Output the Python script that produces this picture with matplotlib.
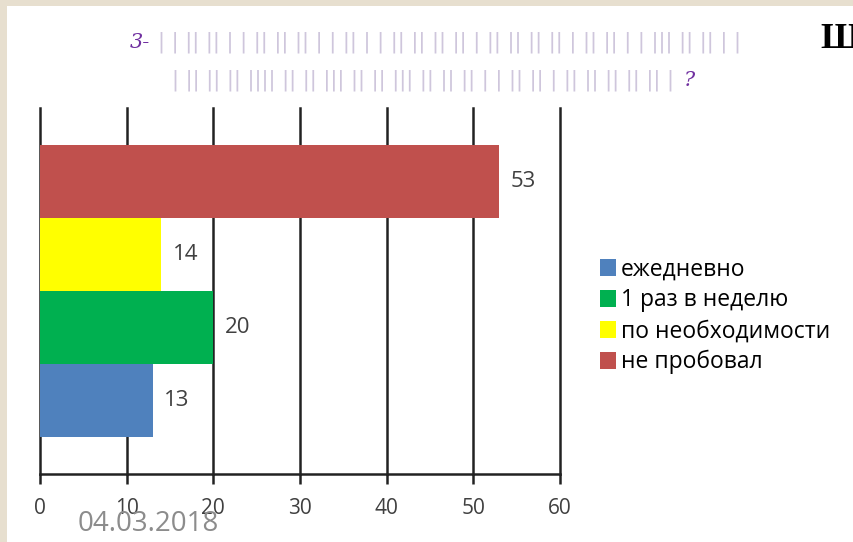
import matplotlib
matplotlib.use("Agg")
import matplotlib.pyplot as plt
from matplotlib.patches import Rectangle, Patch

categories = ['ежедневно', '1 раз в неделю', 'по необходимости', 'не пробовал']
values = [13, 20, 14, 53]
colors = ['#4f81bd', '#00b050', '#ffff00', '#c0504d']
xticks = [0, 10, 20, 30, 40, 50, 60]

W, H = 854, 542
fig = plt.figure(figsize=(W / 100, H / 100), dpi=100)
fig.patch.set_facecolor('#e7dfcf')
fig.patches.append(Rectangle((7 / W, 0), 1, 1 - 6 / H, transform=fig.transFigure,
                             facecolor='white', edgecolor='none', zorder=-5))

font = 'Open Sans'
ax = fig.add_axes([40 / W, 1 - 474 / H, 520 / W, 366 / H])
ax.set_zorder(2)
ax.set_facecolor('none')
ypos = list(range(len(categories)))
bars = ax.barh(ypos, values, height=1.0, color=colors, edgecolor='none', zorder=2)
ax.set_xlim(0, 60)
ax.set_ylim(-1, 4)
for x in xticks:
    ax.axvline(x, color='#222222', lw=1.8, zorder=1, clip_on=False)
for sp in ['top', 'right', 'left']:
    ax.spines[sp].set_visible(False)
ax.spines['bottom'].set_color('#222222')
ax.spines['bottom'].set_linewidth(1.8)
ax.set_yticks([])
ax.set_xticks(xticks)
ax.tick_params(axis='x', length=7, width=1.8, color='#222222', pad=10,
               labelsize=15, labelcolor='#404040')
for lab in ax.get_xticklabels():
    lab.set_fontfamily(font)
for y, v in zip(ypos, values):
    ax.annotate(str(v), (v, y), xytext=(8, 0), textcoords='offset points',
                va='center', ha='left', fontsize=16, color='#404040', family=font)

handles = [Patch(facecolor=c, edgecolor='none') for c in colors]
fig.legend(handles, categories, loc='center left', bbox_to_anchor=(600 / W, 1 - 316 / H),
           frameon=False, prop={'family': font, 'size': 16.5}, handlelength=0.7,
           handleheight=0.8, handletextpad=0.2, labelspacing=0.3, borderpad=0,
           borderaxespad=0)

# title (glyphs lost in the source rendered as bars)
fig.text(130 / W, 1 - 42 / H, '3-', fontsize=15, color='#7030a0', style='italic',
         family='DejaVu Serif', va='center', ha='left')
fig.text(158 / W, 1 - 42 / H, '| ' + '| || || | | || || || | | || | | || || || || | || || || || | || || | | ||| || || | |',
         fontsize=15, color='#cfc6dc', family='DejaVu Sans', va='center', ha='left')
fig.text(172 / W, 1 - 80 / H, '| || || || |||| || || ||| || || ||| || || || | | || || | || || || || || |',
         fontsize=15, color='#cfc6dc', family='DejaVu Sans', va='center', ha='left')
fig.text(684 / W, 1 - 80 / H, '?', fontsize=15, color='#7030a0', style='italic',
         family='DejaVu Serif', va='center', ha='left')
fig.text(820 / W, 1 - 39 / H, 'Ш', fontsize=26, color='black', family='Liberation Serif',
         weight='bold', va='center', ha='left')
fig.text(78 / W, 1 - 524 / H, '04.03.2018', fontsize=20, color='#8c8c8c', family=font,
         va='center', ha='left')

fig.savefig('out.png', dpi=100, facecolor=fig.get_facecolor())
